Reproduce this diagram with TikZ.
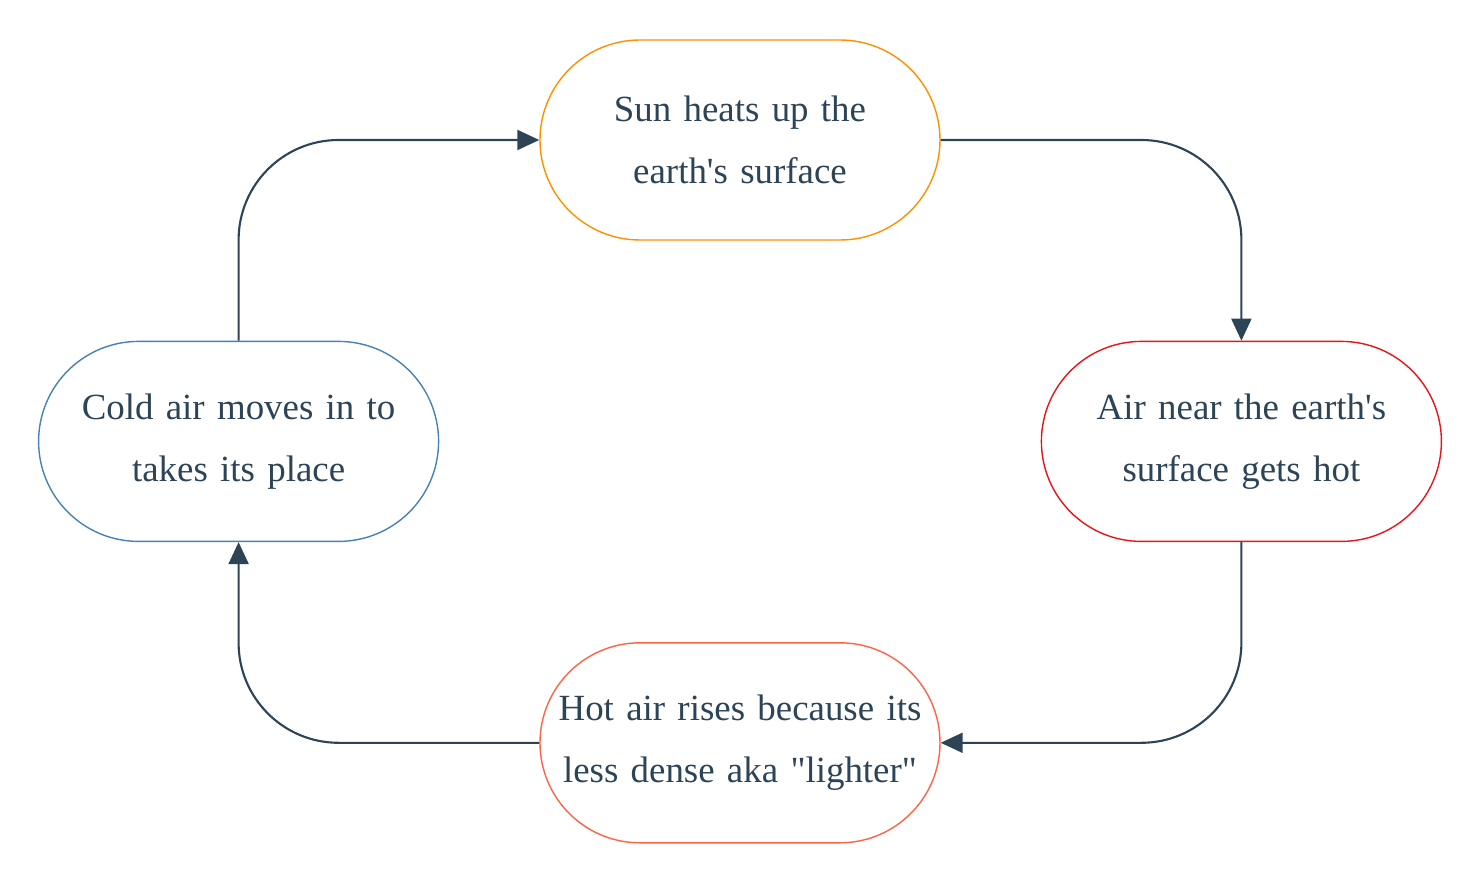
\documentclass[tikz,border=0pt]{standalone}
\usepackage{fontspec}
\setmainfont{Liberation Serif}[Ligatures=TeXOff]
\usetikzlibrary{positioning,arrows.meta}
\definecolor{inkcol}{HTML}{2C4456}
\definecolor{suncol}{HTML}{FF9000}
\definecolor{hotcol}{HTML}{E8141A}
\definecolor{risecol}{HTML}{FF6347}
\definecolor{coldcol}{HTML}{4682B4}
\begin{document}
\begin{tikzpicture}[
    node distance=1cm and 1cm,
    block/.style={rectangle, draw, thin, text=inkcol, text width=3.9cm, align=center, rounded corners=1cm, minimum width=4cm, minimum height=2cm, inner sep=0.05cm, font=\fontsize{10.5}{17.6}\selectfont},
    arrow/.style={inkcol, semithick, rounded corners=1cm, -{Triangle[length=0.22cm, width=0.2cm]}}
]
    \useasboundingbox (0,0) rectangle (14.8,8.8);
    \node [block, draw=suncol] (sun) at (7.4,7.4) {Sun heats up the\\earth's surface};
    \node [block, draw=hotcol, below right=of sun] (hot) {Air near the earth's\\surface gets hot};
    \node [block, draw=coldcol, below left=of sun] (cold) {Cold air moves in to\\takes its place};
    \node [block, draw=risecol, below right=of cold] (rise) {Hot air rises because its\\less dense aka "lighter"};

    \draw [arrow] (sun.east) -| (hot.north);
    \draw [arrow] (hot.south) |- (rise.east);
    \draw [arrow] (rise.west) -| (cold.south);
    \draw [arrow] (cold.north) |- (sun.west);
\end{tikzpicture}
\end{document}
